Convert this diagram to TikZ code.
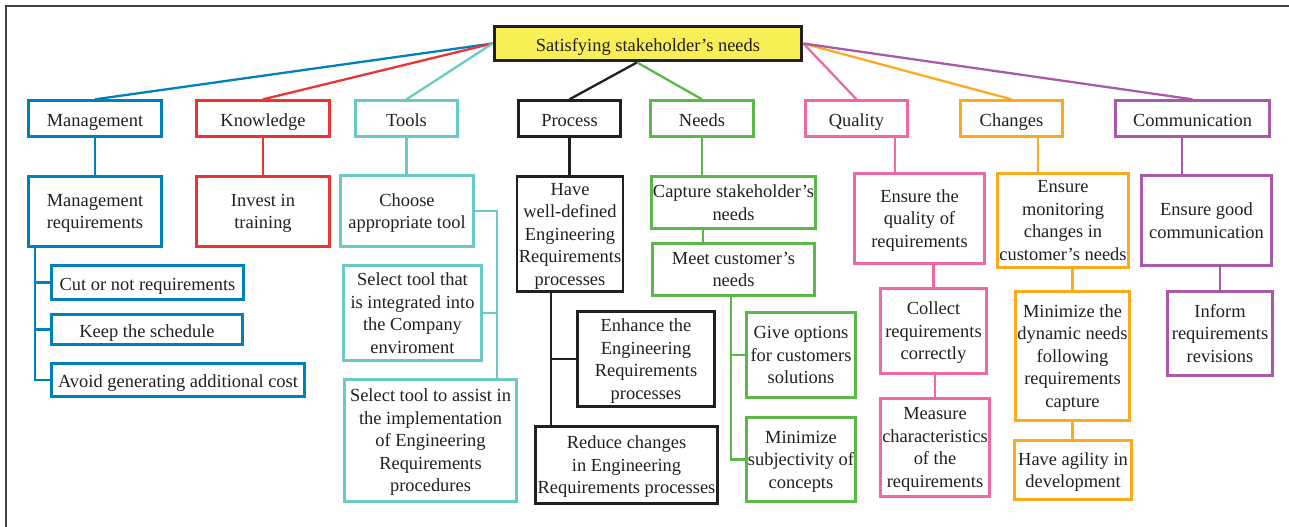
\documentclass[tikz,border=0pt]{standalone}
\usepackage{fontspec}
\setmainfont{Liberation Serif}

\definecolor{txtgray}{RGB}{35,31,32}
\definecolor{rootyellow}{RGB}{248,238,85}
\definecolor{cMan}{RGB}{0,128,185}
\definecolor{cKno}{RGB}{236,50,50}
\definecolor{cToo}{RGB}{108,202,196}
\definecolor{cPro}{RGB}{35,31,32}
\definecolor{cNee}{RGB}{90,185,70}
\definecolor{cQua}{RGB}{237,105,165}
\definecolor{cCha}{RGB}{250,170,30}
\definecolor{cCom}{RGB}{168,90,168}

\begin{document}
\begin{tikzpicture}[
    % Define styles
    box/.style={
        rectangle,
        draw,
        line width=1.6pt,
        align=center,
        inner sep=1pt,
        text=txtgray,
        text depth=-1.5pt,
        font=\fontsize{10.5}{12.8}\selectfont
    },
    oneline/.style={
        box,
        text height=9pt,
        text depth=0pt
    },
    rootbox/.style={
        oneline,
        draw=txtgray,
        fill=rootyellow,
        line width=1.9pt,
        text height=9.4pt
    },
    topic/.style={
        oneline,
        text height=9.4pt,
        minimum height=0.71cm
    },
    link/.style={
        line width=1.3pt
    }
]

% Page and frame
\useasboundingbox (0,0) rectangle (25.78,-10.54);
\draw[line width=0.8pt, black!75] (0.12,-10.54) -- (0.12,-0.12) -- (25.78,-0.12);

% Root
\node[rootbox, minimum width=6.15cm, minimum height=0.69cm] (root) at (12.96,-0.87) {Satisfying stakeholder's needs};

% Topics
\def\topy{-2.37}
\node[topic, draw=cMan, minimum width=2.67cm] (man) at (1.90,\topy) {Management};
\node[topic, draw=cKno, minimum width=2.67cm] (kno) at (5.26,\topy) {Knowledge};
\node[topic, draw=cToo, minimum width=2.05cm] (too) at (8.13,\topy) {Tools};
\node[topic, draw=cPro, minimum width=2.05cm] (pro) at (11.39,\topy) {Process};
\node[topic, draw=cNee, minimum width=2.07cm] (nee) at (14.04,\topy) {Needs};
\node[topic, draw=cQua, minimum width=2.05cm] (qua) at (17.13,\topy) {Quality};
\node[topic, draw=cCha, minimum width=2.05cm] (cha) at (20.23,\topy) {Changes};
\node[topic, draw=cCom, minimum width=3.09cm] (com) at (23.85,\topy) {Communication};

\draw[link, cMan] (root.west) -- (man.north);
\draw[link, cKno] (root.west) -- (kno.north);
\draw[link, cToo] (root.west) -- (too.north);
\draw[link, cPro] ([xshift=-0.22cm]root.south) -- (pro.north);
\draw[link, cNee] ([xshift=-0.22cm]root.south) -- (nee.north);
\draw[link, cQua] (root.east) -- (qua.north);
\draw[link, cCha] (root.east) -- (cha.north);
\draw[link, cCom] (root.east) -- (com.north);

% Management
\node[box, draw=cMan, minimum width=2.67cm, minimum height=1.41cm] (manreq) at (1.90,-4.23) {Management\\requirements};
\node[oneline, draw=cMan, minimum width=3.85cm, minimum height=0.69cm] (cut) at (2.95,-5.65) {Cut or not requirements};
\node[oneline, draw=cMan, minimum width=3.83cm, minimum height=0.61cm] (keep) at (2.94,-6.59) {Keep the schedule};
\node[oneline, draw=cMan, minimum width=5.07cm, minimum height=0.67cm] (avoid) at (3.56,-7.60) {Avoid generating additional cost};
\draw[link, cMan] (man.south) -- (manreq.north);
\draw[link, cMan] ([xshift=0.16cm]manreq.south west) |- (cut.west);
\draw[link, cMan] ([xshift=0.16cm]manreq.south west) |- (keep.west);
\draw[link, cMan] ([xshift=0.16cm]manreq.south west) |- (avoid.west);

% Knowledge
\node[box, draw=cKno, minimum width=2.67cm, minimum height=1.41cm] (invest) at (5.26,-4.23) {Invest in\\training};
\draw[link, cKno] (kno.south) -- (invest.north);

% Tools
\node[box, draw=cToo, minimum width=2.67cm, minimum height=1.43cm] (choose) at (8.14,-4.22) {Choose\\appropriate tool};
\node[box, draw=cToo, minimum width=2.77cm, minimum height=1.91cm] (seltool) at (8.25,-6.26) {Select tool that\\is integrated into\\the Company\\enviroment};
\node[box, draw=cToo, minimum width=3.45cm, minimum height=2.45cm] (assist) at (8.61,-8.81) {Select tool to assist in\\the implementation\\of Engineering\\Requirements\\procedures};
\coordinate (tbus) at (9.94,-7.56);
\draw[link, cToo] (too.south) -- (too.south |- choose.north);
\draw[link, cToo] (choose.east) -| (tbus);
\draw[link, cToo] (seltool.east) -- (seltool.east -| tbus);

% Process
\node[box, draw=cPro, minimum width=2.07cm, minimum height=2.31cm] (have) at (11.40,-4.68) {Have\\well-defined\\Engineering\\Requirements\\processes};
\node[box, draw=cPro, minimum width=2.75cm, minimum height=1.91cm] (enhance) at (12.92,-7.18) {Enhance the\\Engineering\\Requirements\\processes};
\node[box, draw=cPro, minimum width=3.53cm, minimum height=1.55cm] (reduce) at (12.53,-9.30) {Reduce changes\\in Engineering\\Requirements processes};
\coordinate (pbus) at (11.02,-8.5);
\draw[link, cPro] (pro.south) -- (pro.south |- have.north);
\draw[link, cPro] (have.south -| pbus) -- (pbus);
\draw[link, cPro] (enhance.west) -- (enhance.west -| pbus);

% Needs
\node[box, draw=cNee, minimum width=3.25cm, minimum height=1.05cm] (capture) at (14.67,-4.05) {Capture stakeholder's\\needs};
\node[box, draw=cNee, minimum width=3.25cm, minimum height=1.05cm] (meet) at (14.67,-5.39) {Meet customer's\\needs};
\node[box, draw=cNee, minimum width=2.19cm, minimum height=1.71cm] (give) at (16.02,-7.10) {Give options\\for customers\\solutions};
\node[box, draw=cNee, minimum width=2.19cm, minimum height=1.69cm] (minsub) at (16.02,-9.19) {Minimize\\subjectivity of\\concepts};
\coordinate (nbus) at (14.62,-5.94);
\draw[link, cNee] (nee.south) -- (nee.south |- capture.north);
\draw[link, cNee] ([xshift=0.02cm]nee.south |- capture.south) -- ([xshift=0.02cm]nee.south |- meet.north);
\draw[link, cNee] (nbus) |- (minsub.west);
\draw[link, cNee] (give.west) -- (give.west -| nbus);

% Quality
\node[box, draw=cQua, minimum width=2.61cm, minimum height=1.81cm] (ensq) at (18.39,-4.37) {Ensure the\\quality of\\requirements};
\node[box, draw=cQua, minimum width=2.13cm, minimum height=1.71cm] (collect) at (18.67,-6.62) {Collect\\requirements\\correctly};
\node[box, draw=cQua, minimum width=2.19cm, minimum height=1.97cm] (measure) at (18.70,-8.95) {Measure\\characteristics\\of the\\requirements};
\draw[link, cQua] ([xshift=0.77cm]qua.south) -- ([xshift=0.77cm]qua.south |- ensq.north);
\draw[link, cQua] (collect.north |- ensq.south) -- (collect.north);
\draw[link, cQua] ([xshift=0.03cm]collect.south) -- ([xshift=0.03cm]collect.south |- measure.north);

% Changes
\node[box, draw=cCha, minimum width=2.59cm, minimum height=1.89cm] (ensmon) at (21.26,-4.41) {Ensure\\monitoring\\changes in\\customer's needs};
\node[box, draw=cCha, minimum width=2.29cm, minimum height=2.59cm] (mindyn) at (21.45,-7.12) {Minimize the\\dynamic needs\\following\\requirements\\capture};
\node[box, draw=cCha, minimum width=2.35cm, minimum height=1.19cm] (agility) at (21.46,-9.40) {Have agility in\\development};
\draw[link, cCha] ([xshift=0.53cm]cha.south) -- ([xshift=0.53cm]cha.south |- ensmon.north);
\draw[link, cCha] (mindyn.north |- ensmon.south) -- (mindyn.north);
\draw[link, cCha] (mindyn.south) -- (mindyn.south |- agility.north);

% Communication
\node[box, draw=cCom, minimum width=2.61cm, minimum height=1.81cm] (ensgood) at (24.13,-4.41) {Ensure good\\communication};
\node[box, draw=cCom, minimum width=2.11cm, minimum height=1.69cm] (inform) at (24.40,-6.67) {Inform\\requirements\\revisions};
\draw[link, cCom] ([xshift=-0.21cm]com.south) -- ([xshift=-0.21cm]com.south |- ensgood.north);
\draw[link, cCom] (inform.north |- ensgood.south) -- (inform.north);

\end{tikzpicture}
\end{document}
